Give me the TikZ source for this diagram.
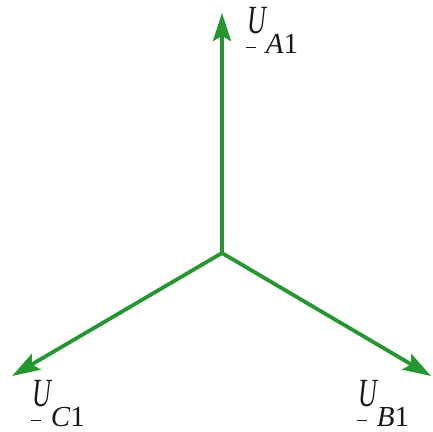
\documentclass[tikz,border=0pt]{standalone}
\usepackage{fontspec}
\setmainfont{Liberation Serif}
\usepackage{graphicx}
\usetikzlibrary{arrows.meta}
\definecolor{phgreen}{RGB}{38,150,48}
\newcommand{\phasorlbl}[1]{\rlap{\kern-1pt\rule[-15pt]{10pt}{1.4pt}}\scalebox{0.65}[1]{\fontsize{40}{40}\selectfont\itshape U}\raisebox{-20pt}{\fontsize{29}{29}\selectfont\itshape #1\upshape 1}}
\begin{document}
\begin{tikzpicture}[x=1pt,y=-1pt,
  phasor/.style={draw=phgreen,line width=3.8pt,-{Stealth[length=28pt,width=18pt,inset=5pt]}},
  lbl/.style={anchor=base west,inner sep=0pt,text=black!90}]
\path[use as bounding box,fill=white] (0,0) rectangle (433,431);
\coordinate (O) at (222,253);
\coordinate (A) at (222,13);
\coordinate (B) at (431,376);
\coordinate (C) at (12,376);
\draw[phasor] (O) -- (A);
\draw[phasor] (O) -- (B);
\draw[phasor] (O) -- (C);
\node[lbl] (la) at (247,33) {\phasorlbl{A}};
\node[lbl] (lb) at (358,406) {\phasorlbl{B}};
\node[lbl] (lc) at (32,406) {\phasorlbl{C}};
\end{tikzpicture}
\end{document}
